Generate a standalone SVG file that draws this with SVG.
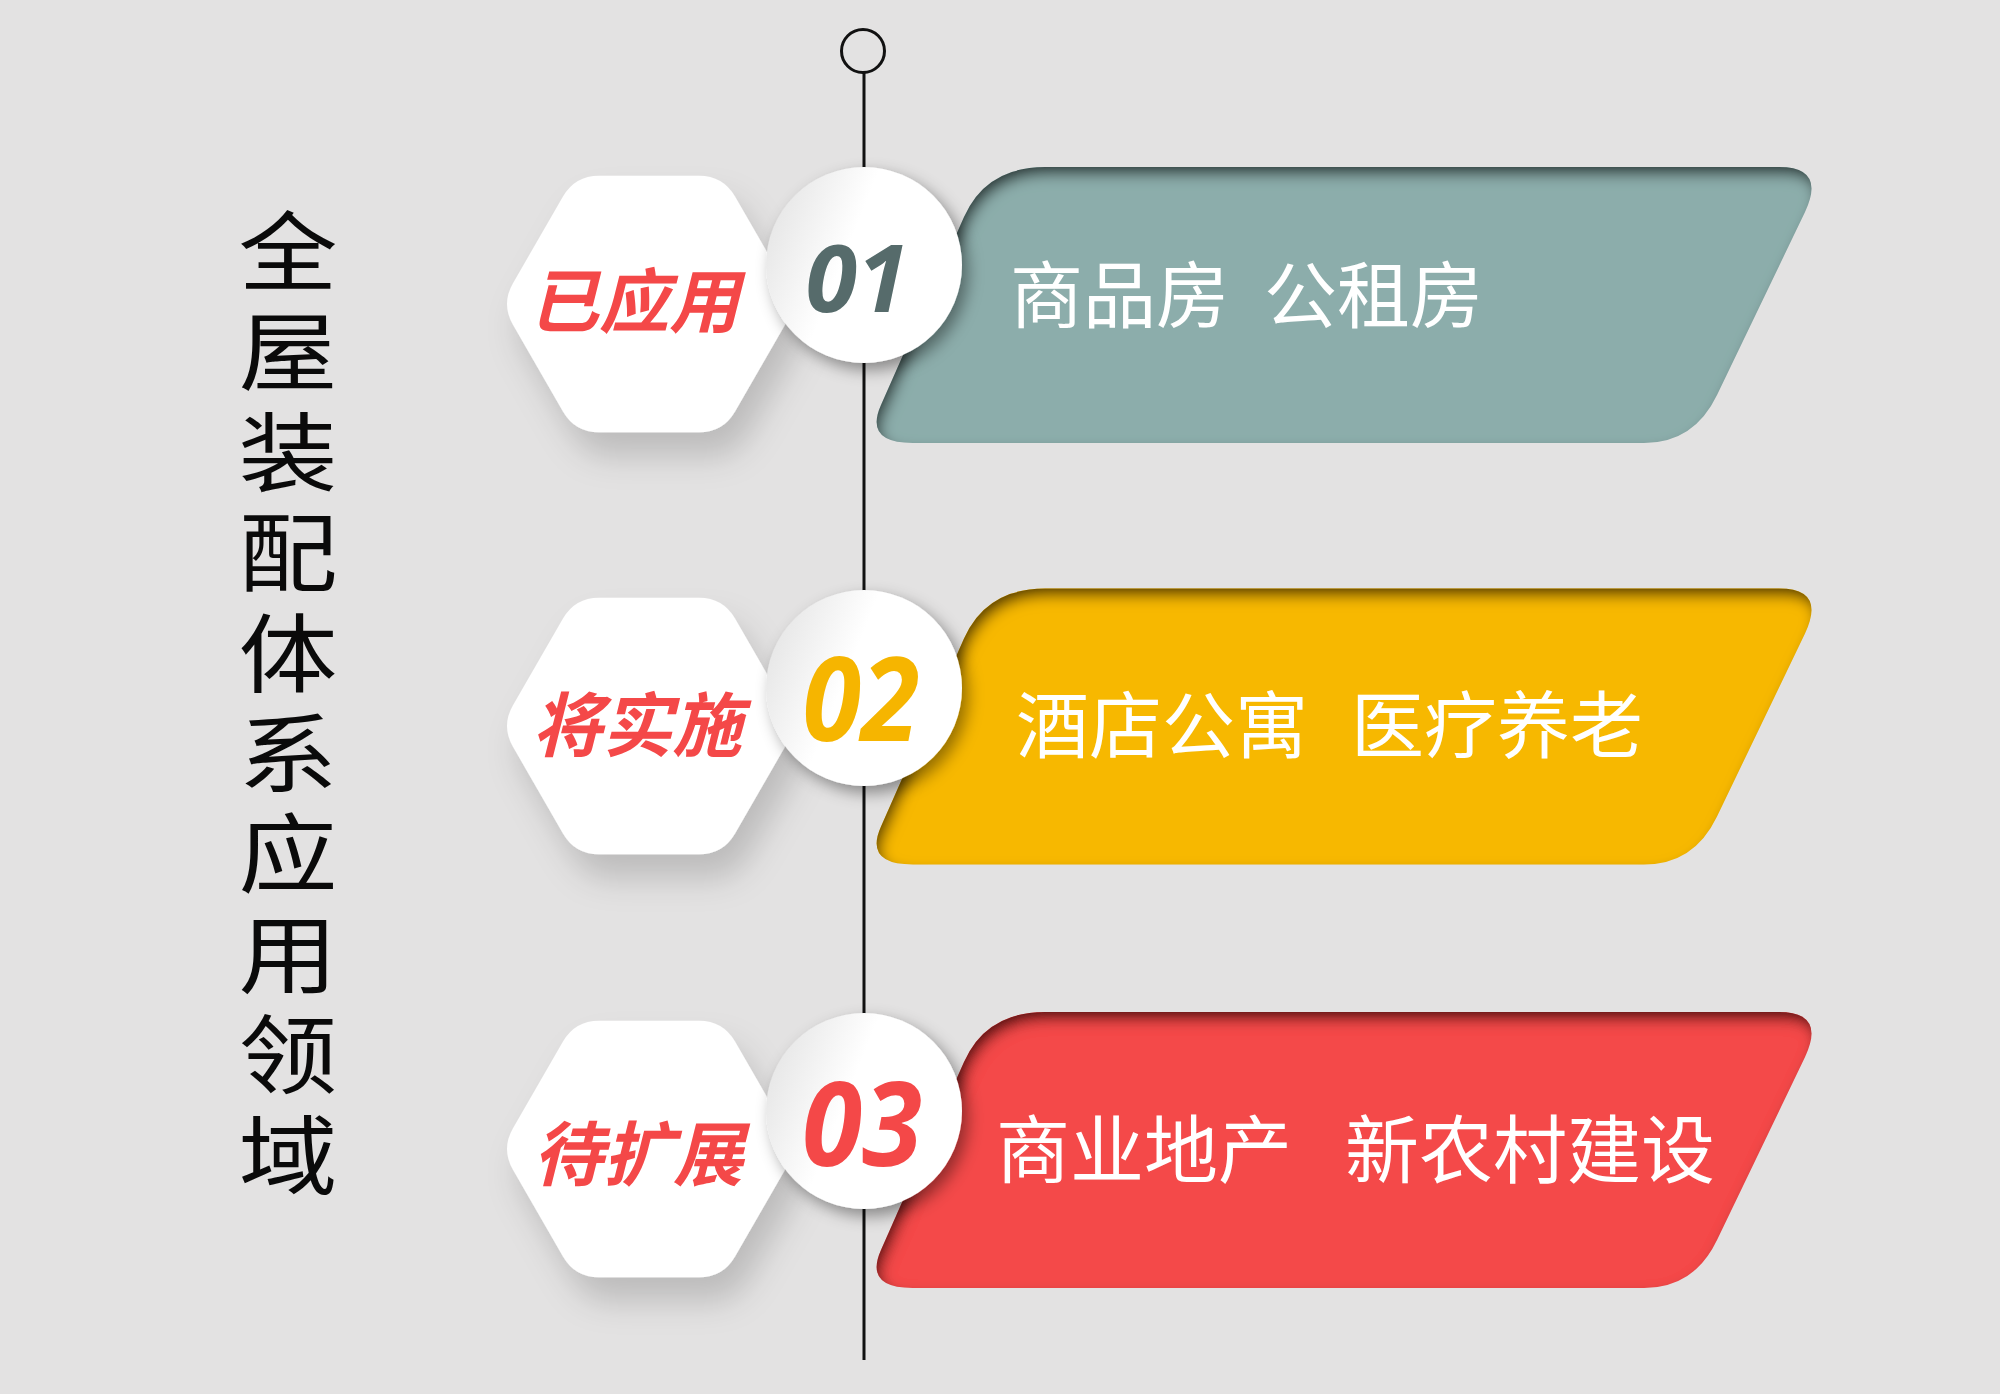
<svg xmlns="http://www.w3.org/2000/svg" xmlns:xlink="http://www.w3.org/1999/xlink" width="2000" height="1394" viewBox="0 0 2000 1394">
<style>
.title{font-family:"Liberation Sans","Noto Sans CJK SC",sans-serif;font-size:86px;font-weight:400;fill:#0a0a0a;}
.hexTxt{font-family:"Noto Sans CJK SC","Noto Sans",sans-serif;font-size:70px;font-weight:bold;font-style:italic;fill:#F44848;}
.num{font-family:"Open Sans","Liberation Sans",sans-serif;font-weight:bold;font-style:italic;}
.ban{font-family:"Noto Sans CJK SC","Noto Sans",sans-serif;fill:#ffffff;}
</style>
<defs>
<path id="hexShape" d="M136,-20.8 Q148,0 136,20.8 L86,107.4 Q74,128.2 50,128.2 L-50,128.2 Q-74,128.2 -86,107.4 L-136,20.8 Q-148,0 -136,-20.8 L-86,-107.4 Q-74,-128.2 -50,-128.2 L50,-128.2 Q74,-128.2 86,-107.4 Z"/>
<path id="bannerShape" d="M1045,167 L1779,167 Q1826,167 1805,212 L1717,395 Q1694,443 1644,443 L913,443 Q864,443 881,405 L964,217 Q986,167 1045,167 Z"/>
<linearGradient id="circFill" x1="0" y1="0.3" x2="1" y2="0.7">
<stop offset="0" stop-color="#e6e6e6"/>
<stop offset="0.4" stop-color="#ffffff"/>
<stop offset="1" stop-color="#ffffff"/>
</linearGradient>
<filter id="hexShadow" x="-30%" y="-30%" width="170%" height="180%">
<feDropShadow dx="12" dy="24" stdDeviation="16" flood-color="#000" flood-opacity="0.17"/>
</filter>
<filter id="circShadow" x="-30%" y="-30%" width="160%" height="160%">
<feDropShadow dx="6" dy="7" stdDeviation="8" flood-color="#000" flood-opacity="0.4"/>
</filter>
<filter id="inner" x="-5%" y="-10%" width="110%" height="120%">
<feFlood flood-color="#000" flood-opacity="0.9" result="c"/>
<feComposite in="c" in2="SourceAlpha" operator="out" result="inv"/>
<feGaussianBlur in="inv" stdDeviation="7" result="b"/>
<feOffset in="b" dx="4" dy="8" result="o"/>
<feComposite in="o" in2="SourceAlpha" operator="in" result="s"/>
<feMerge><feMergeNode in="SourceGraphic"/><feMergeNode in="s"/></feMerge>
</filter>
</defs>
<rect x="0" y="0" width="2000" height="1394" fill="#E3E2E2"/>

<g id="title" transform="translate(288,0) scale(1.15,1)">
<text class="title" text-anchor="middle"><tspan x="0" y="284">全</tspan><tspan x="0" y="384">屋</tspan><tspan x="0" y="485">装</tspan><tspan x="0" y="585">配</tspan><tspan x="0" y="686">体</tspan><tspan x="0" y="786">系</tspan><tspan x="0" y="886">应</tspan><tspan x="0" y="987">用</tspan><tspan x="0" y="1087">领</tspan><tspan x="0" y="1188">域</tspan></text>
</g>

<g id="connectors">
<line x1="864" y1="73" x2="864" y2="1360" stroke="#111" stroke-width="3"/>
<circle cx="863" cy="51" r="21.5" fill="none" stroke="#111" stroke-width="3"/>
</g>

<g id="item1">
<use xlink:href="#bannerShape" fill="#8CADAB" filter="url(#inner)"/>
<text class="ban" font-size="73" y="322"><tspan x="1010">商品房</tspan> <tspan x="1264">公租房</tspan></text>
<use xlink:href="#hexShape" x="649" y="304" fill="#ffffff" filter="url(#hexShadow)"/>
<text class="hexTxt" x="634" y="327" text-anchor="middle">已应用</text>
<circle cx="864" cy="265" r="98" fill="url(#circFill)" filter="url(#circShadow)"/>
<text class="num" x="857" y="312" font-size="94" fill="#566B6B" text-anchor="middle" textLength="103" lengthAdjust="spacingAndGlyphs">01</text>
</g>

<g id="item2">
<use xlink:href="#bannerShape" y="421.5" fill="#F7B800" filter="url(#inner)"/>
<text class="ban" font-size="73" y="752"><tspan x="1016">酒店公寓</tspan> <tspan x="1351">医疗养老</tspan></text>
<use xlink:href="#hexShape" x="649" y="726" fill="#ffffff" filter="url(#hexShadow)"/>
<text class="hexTxt" x="637" y="751" text-anchor="middle">将实施</text>
<circle cx="864" cy="688" r="98" fill="url(#circFill)" filter="url(#circShadow)"/>
<text class="num" x="861" y="741" font-size="116" fill="#F6B500" text-anchor="middle" textLength="117" lengthAdjust="spacingAndGlyphs">02</text>
</g>

<g id="item3">
<use xlink:href="#bannerShape" y="845" fill="#F44848" filter="url(#inner)"/>
<text class="ban" font-size="74" y="1177"><tspan x="996">商业地产</tspan> <tspan x="1345">新农村建设</tspan></text>
<use xlink:href="#hexShape" x="649" y="1149" fill="#ffffff" filter="url(#hexShadow)"/>
<text class="hexTxt" x="638" y="1180" text-anchor="middle">待扩展</text>
<circle cx="864" cy="1111" r="98" fill="url(#circFill)" filter="url(#circShadow)"/>
<text class="num" x="862" y="1166" font-size="116" fill="#F44848" text-anchor="middle" textLength="120" lengthAdjust="spacingAndGlyphs">03</text>
</g>
</svg>
